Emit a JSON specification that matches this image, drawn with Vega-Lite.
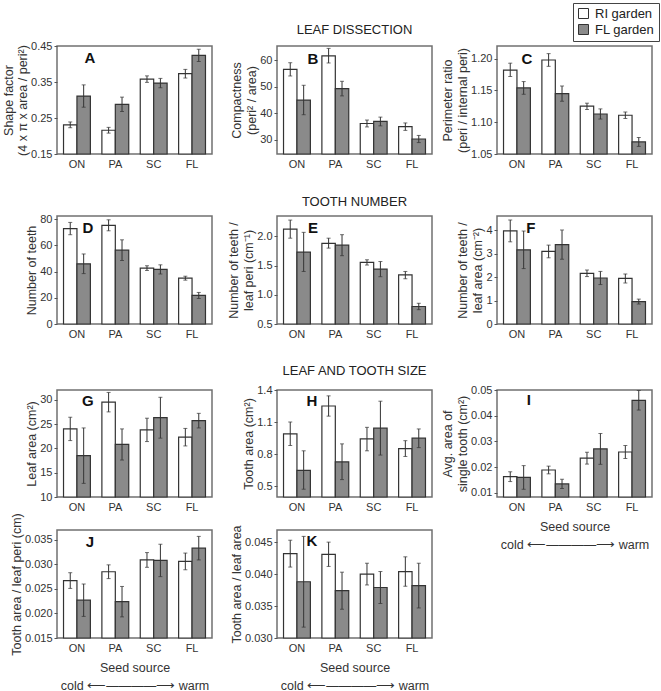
{
"$schema":"https://vega.github.io/schema/vega-lite/v6.json",
"padding":{"left":1,"top":2,"right":0,"bottom":0},
"background":"#ffffff",
"config":{
 "font":"Liberation Sans",
 "view":{"stroke":"#707070","strokeWidth":1.5},
 "axis":{"domain":false,"grid":false,"labelOverlap":false,"labelFont":"Liberation Sans","labelFontSize":11,"labelColor":"#333333","titleFont":"Liberation Sans","titleFontSize":12.5,"titleFontWeight":"normal","titleColor":"#333333","tickColor":"#555555","tickSize":3},
 "axisX":{"ticks":false,"labelPadding":4,"labelAngle":0,"titlePadding":8,"titleLineHeight":18},
 "axisY":{"labelPadding":2,"titlePadding":1,"titleLineHeight":15},
 "title":{"font":"Liberation Sans","fontSize":13,"fontWeight":"normal","color":"#222222"}
},
"spacing":25,
"vconcat":[
  {"bounds":"flush","spacing":65,"hconcat":[
   {"width":155,"height":108,"resolve":{"axis":{"x":"independent","y":"independent"}},
    "data":{"values":[
     {"source":"ON","garden":"RI garden","mean":0.231,"lo":0.223,"hi":0.239},
     {"source":"ON","garden":"FL garden","mean":0.311,"lo":0.280,"hi":0.342},
     {"source":"PA","garden":"RI garden","mean":0.216,"lo":0.208,"hi":0.224},
     {"source":"PA","garden":"FL garden","mean":0.288,"lo":0.268,"hi":0.308},
     {"source":"SC","garden":"RI garden","mean":0.358,"lo":0.349,"hi":0.367},
     {"source":"SC","garden":"FL garden","mean":0.347,"lo":0.334,"hi":0.360},
     {"source":"FL","garden":"RI garden","mean":0.373,"lo":0.361,"hi":0.385},
     {"source":"FL","garden":"FL garden","mean":0.424,"lo":0.407,"hi":0.441}]},
    "layer":[
     {"mark":{"type":"bar","stroke":"#333333","strokeWidth":1.2},
      "encoding":{
       "x":{"field":"source","type":"nominal","scale":{"domain":["ON","PA","SC","FL"],"paddingInner":0.3,"paddingOuter":0.17},"axis":{"title":null,"labelOverlap":false}},
       "xOffset":{"field":"garden","type":"nominal","scale":{"domain":["RI garden","FL garden"]}},
       "y":{"field":"mean","type":"quantitative","scale":{"domain":[0.15,0.45],"nice":false,"zero":false},"axis":{"title":["Shape factor","(4 x π x area / peri²)"],"titleLineHeight":14,"values":[0.15,0.25,0.35,0.45],"format":".2f","labelOverlap":false}},
       "y2":{"datum":0.15},
       "color":{"field":"garden","type":"nominal","scale":{"domain":["RI garden","FL garden"],"range":["#ffffff","#8a8a8a"]},"legend":{"title":null,"orient":"none","legendX":516,"legendY":-43,"symbolType":"square","symbolSize":100,"symbolStrokeColor":"#333333","symbolStrokeWidth":1,"symbolOpacity":1,"labelFontSize":13,"labelColor":"#222222","strokeColor":"#444444","padding":4,"rowPadding":1,"labelOffset":5}}}},
     {"mark":{"type":"rule","color":"#333333"},
      "encoding":{"x":{"field":"source","type":"nominal","axis":null},"xOffset":{"field":"garden","type":"nominal"},"y":{"field":"lo","type":"quantitative","axis":null},"y2":{"field":"hi"}}},
     {"mark":{"type":"tick","orient":"horizontal","size":4,"thickness":1,"color":"#333333"},
      "encoding":{"x":{"field":"source","type":"nominal","axis":null},"xOffset":{"field":"garden","type":"nominal"},"y":{"field":"lo","type":"quantitative","axis":null}}},
     {"mark":{"type":"tick","orient":"horizontal","size":4,"thickness":1,"color":"#333333"},
      "encoding":{"x":{"field":"source","type":"nominal","axis":null},"xOffset":{"field":"garden","type":"nominal"},"y":{"field":"hi","type":"quantitative","axis":null}}},
     {"data":{"values":[{}]},"mark":{"type":"text","text":"A","fontSize":15,"fontWeight":"bold","dx":13,"baseline":"middle","color":"#111111"},
      "encoding":{"x":{"datum":"ON","axis":null},"y":{"datum":0.4175,"axis":null}}}
    ]},
   {"width":155,"height":108,"resolve":{"axis":{"x":"independent","y":"independent"}},
    "title":{"text":"LEAF DISSECTION","offset":9},
    "data":{"values":[
     {"source":"ON","garden":"RI garden","mean":56.5,"lo":54.0,"hi":59.0},
     {"source":"ON","garden":"FL garden","mean":44.9,"lo":39.4,"hi":50.5},
     {"source":"PA","garden":"RI garden","mean":61.6,"lo":58.9,"hi":64.4},
     {"source":"PA","garden":"FL garden","mean":49.25,"lo":46.5,"hi":52.0},
     {"source":"SC","garden":"RI garden","mean":36.1,"lo":34.8,"hi":37.4},
     {"source":"SC","garden":"FL garden","mean":36.9,"lo":35.2,"hi":38.5},
     {"source":"FL","garden":"RI garden","mean":34.9,"lo":33.5,"hi":36.3},
     {"source":"FL","garden":"FL garden","mean":30.25,"lo":28.9,"hi":31.6}]},
    "layer":[
     {"mark":{"type":"bar","stroke":"#333333","strokeWidth":1.2},
      "encoding":{
       "x":{"field":"source","type":"nominal","scale":{"domain":["ON","PA","SC","FL"],"paddingInner":0.3,"paddingOuter":0.17},"axis":{"title":null,"labelOverlap":false}},
       "xOffset":{"field":"garden","type":"nominal","scale":{"domain":["RI garden","FL garden"]}},
       "y":{"field":"mean","type":"quantitative","scale":{"domain":[24.6,65.3],"nice":false,"zero":false},"axis":{"title":["Compactness","(peri² / area)"],"values":[30,40,50,60],"labelOverlap":false}},
       "y2":{"datum":24.6},
       "color":{"field":"garden","type":"nominal","scale":{"domain":["RI garden","FL garden"],"range":["#ffffff","#8a8a8a"]},"legend":{"title":null,"orient":"none","legendX":516,"legendY":-43,"symbolType":"square","symbolSize":100,"symbolStrokeColor":"#333333","symbolStrokeWidth":1,"symbolOpacity":1,"labelFontSize":13,"labelColor":"#222222","strokeColor":"#444444","padding":4,"rowPadding":1,"labelOffset":5}}}},
     {"mark":{"type":"rule","color":"#333333"},
      "encoding":{"x":{"field":"source","type":"nominal","axis":null},"xOffset":{"field":"garden","type":"nominal"},"y":{"field":"lo","type":"quantitative","axis":null},"y2":{"field":"hi"}}},
     {"mark":{"type":"tick","orient":"horizontal","size":4,"thickness":1,"color":"#333333"},
      "encoding":{"x":{"field":"source","type":"nominal","axis":null},"xOffset":{"field":"garden","type":"nominal"},"y":{"field":"lo","type":"quantitative","axis":null}}},
     {"mark":{"type":"tick","orient":"horizontal","size":4,"thickness":1,"color":"#333333"},
      "encoding":{"x":{"field":"source","type":"nominal","axis":null},"xOffset":{"field":"garden","type":"nominal"},"y":{"field":"hi","type":"quantitative","axis":null}}},
     {"data":{"values":[{}]},"mark":{"type":"text","text":"B","fontSize":15,"fontWeight":"bold","dx":16,"baseline":"middle","color":"#111111"},
      "encoding":{"x":{"datum":"ON","axis":null},"y":{"datum":60.5,"axis":null}}}
    ]},
   {"width":155,"height":108,"resolve":{"axis":{"x":"independent","y":"independent"}},
    "data":{"values":[
     {"source":"ON","garden":"RI garden","mean":1.182,"lo":1.172,"hi":1.193},
     {"source":"ON","garden":"FL garden","mean":1.154,"lo":1.144,"hi":1.164},
     {"source":"PA","garden":"RI garden","mean":1.198,"lo":1.188,"hi":1.208},
     {"source":"PA","garden":"FL garden","mean":1.145,"lo":1.133,"hi":1.157},
     {"source":"SC","garden":"RI garden","mean":1.1255,"lo":1.120,"hi":1.130},
     {"source":"SC","garden":"FL garden","mean":1.113,"lo":1.105,"hi":1.121},
     {"source":"FL","garden":"RI garden","mean":1.111,"lo":1.106,"hi":1.116},
     {"source":"FL","garden":"FL garden","mean":1.069,"lo":1.062,"hi":1.076}]},
    "layer":[
     {"mark":{"type":"bar","stroke":"#333333","strokeWidth":1.2},
      "encoding":{
       "x":{"field":"source","type":"nominal","scale":{"domain":["ON","PA","SC","FL"],"paddingInner":0.3,"paddingOuter":0.17},"axis":{"title":null,"labelOverlap":false}},
       "xOffset":{"field":"garden","type":"nominal","scale":{"domain":["RI garden","FL garden"]}},
       "y":{"field":"mean","type":"quantitative","scale":{"domain":[1.05,1.22],"nice":false,"zero":false},"axis":{"title":["Perimeter ratio","(peri / internal peri)"],"values":[1.05,1.1,1.15,1.2],"format":".2f","labelOverlap":false}},
       "y2":{"datum":1.05},
       "color":{"field":"garden","type":"nominal","scale":{"domain":["RI garden","FL garden"],"range":["#ffffff","#8a8a8a"]},"legend":{"title":null,"orient":"none","legendX":516,"legendY":-43,"symbolType":"square","symbolSize":100,"symbolStrokeColor":"#333333","symbolStrokeWidth":1,"symbolOpacity":1,"labelFontSize":13,"labelColor":"#222222","strokeColor":"#444444","padding":4,"rowPadding":1,"labelOffset":5}}}},
     {"mark":{"type":"rule","color":"#333333"},
      "encoding":{"x":{"field":"source","type":"nominal","axis":null},"xOffset":{"field":"garden","type":"nominal"},"y":{"field":"lo","type":"quantitative","axis":null},"y2":{"field":"hi"}}},
     {"mark":{"type":"tick","orient":"horizontal","size":4,"thickness":1,"color":"#333333"},
      "encoding":{"x":{"field":"source","type":"nominal","axis":null},"xOffset":{"field":"garden","type":"nominal"},"y":{"field":"lo","type":"quantitative","axis":null}}},
     {"mark":{"type":"tick","orient":"horizontal","size":4,"thickness":1,"color":"#333333"},
      "encoding":{"x":{"field":"source","type":"nominal","axis":null},"xOffset":{"field":"garden","type":"nominal"},"y":{"field":"hi","type":"quantitative","axis":null}}},
     {"data":{"values":[{}]},"mark":{"type":"text","text":"C","fontSize":15,"fontWeight":"bold","dx":10,"baseline":"middle","color":"#111111"},
      "encoding":{"x":{"datum":"ON","axis":null},"y":{"datum":1.199,"axis":null}}}
    ]}
  ]},
 {"spacing":24,"vconcat":[
  {"bounds":"flush","spacing":65,"hconcat":[
   {"width":155,"height":108,"resolve":{"axis":{"x":"independent","y":"independent"}},
    "data":{"values":[
     {"source":"ON","garden":"RI garden","mean":72.9,"lo":68.2,"hi":77.6},
     {"source":"ON","garden":"FL garden","mean":46.0,"lo":38.5,"hi":53.5},
     {"source":"PA","garden":"RI garden","mean":75.4,"lo":71.2,"hi":79.6},
     {"source":"PA","garden":"FL garden","mean":56.4,"lo":48.5,"hi":64.3},
     {"source":"SC","garden":"RI garden","mean":42.7,"lo":40.9,"hi":44.5},
     {"source":"SC","garden":"FL garden","mean":41.7,"lo":38.2,"hi":45.2},
     {"source":"FL","garden":"RI garden","mean":35.0,"lo":33.5,"hi":36.5},
     {"source":"FL","garden":"FL garden","mean":21.8,"lo":19.5,"hi":24.1}]},
    "layer":[
     {"mark":{"type":"bar","stroke":"#333333","strokeWidth":1.2},
      "encoding":{
       "x":{"field":"source","type":"nominal","scale":{"domain":["ON","PA","SC","FL"],"paddingInner":0.3,"paddingOuter":0.17},"axis":{"title":null,"labelOverlap":false}},
       "xOffset":{"field":"garden","type":"nominal","scale":{"domain":["RI garden","FL garden"]}},
       "y":{"field":"mean","type":"quantitative","scale":{"domain":[0,82.5],"nice":false,"zero":false},"axis":{"title":"Number of teeth","values":[0,20,40,60,80],"labelOverlap":false}},
       "y2":{"datum":0},
       "color":{"field":"garden","type":"nominal","scale":{"domain":["RI garden","FL garden"],"range":["#ffffff","#8a8a8a"]},"legend":{"title":null,"orient":"none","legendX":516,"legendY":-43,"symbolType":"square","symbolSize":100,"symbolStrokeColor":"#333333","symbolStrokeWidth":1,"symbolOpacity":1,"labelFontSize":13,"labelColor":"#222222","strokeColor":"#444444","padding":4,"rowPadding":1,"labelOffset":5}}}},
     {"mark":{"type":"rule","color":"#333333"},
      "encoding":{"x":{"field":"source","type":"nominal","axis":null},"xOffset":{"field":"garden","type":"nominal"},"y":{"field":"lo","type":"quantitative","axis":null},"y2":{"field":"hi"}}},
     {"mark":{"type":"tick","orient":"horizontal","size":4,"thickness":1,"color":"#333333"},
      "encoding":{"x":{"field":"source","type":"nominal","axis":null},"xOffset":{"field":"garden","type":"nominal"},"y":{"field":"lo","type":"quantitative","axis":null}}},
     {"mark":{"type":"tick","orient":"horizontal","size":4,"thickness":1,"color":"#333333"},
      "encoding":{"x":{"field":"source","type":"nominal","axis":null},"xOffset":{"field":"garden","type":"nominal"},"y":{"field":"hi","type":"quantitative","axis":null}}},
     {"data":{"values":[{}]},"mark":{"type":"text","text":"D","fontSize":15,"fontWeight":"bold","dx":11,"baseline":"middle","color":"#111111"},
      "encoding":{"x":{"datum":"ON","axis":null},"y":{"datum":73.6,"axis":null}}}
    ]},
   {"width":155,"height":108,"resolve":{"axis":{"x":"independent","y":"independent"}},
    "title":{"text":"TOOTH NUMBER","offset":7},
    "data":{"values":[
     {"source":"ON","garden":"RI garden","mean":2.125,"lo":1.97,"hi":2.28},
     {"source":"ON","garden":"FL garden","mean":1.73,"lo":1.40,"hi":2.07},
     {"source":"PA","garden":"RI garden","mean":1.88,"lo":1.80,"hi":1.97},
     {"source":"PA","garden":"FL garden","mean":1.85,"lo":1.67,"hi":2.03},
     {"source":"SC","garden":"RI garden","mean":1.555,"lo":1.51,"hi":1.60},
     {"source":"SC","garden":"FL garden","mean":1.44,"lo":1.31,"hi":1.57},
     {"source":"FL","garden":"RI garden","mean":1.34,"lo":1.275,"hi":1.40},
     {"source":"FL","garden":"FL garden","mean":0.80,"lo":0.745,"hi":0.855}]},
    "layer":[
     {"mark":{"type":"bar","stroke":"#333333","strokeWidth":1.2},
      "encoding":{
       "x":{"field":"source","type":"nominal","scale":{"domain":["ON","PA","SC","FL"],"paddingInner":0.3,"paddingOuter":0.17},"axis":{"title":null,"labelOverlap":false}},
       "xOffset":{"field":"garden","type":"nominal","scale":{"domain":["RI garden","FL garden"]}},
       "y":{"field":"mean","type":"quantitative","scale":{"domain":[0.5,2.35],"nice":false,"zero":false},"axis":{"title":["Number of teeth /","leaf peri (cm⁻¹)"],"values":[0.5,1.0,1.5,2.0],"format":".1f","labelOverlap":false}},
       "y2":{"datum":0.5},
       "color":{"field":"garden","type":"nominal","scale":{"domain":["RI garden","FL garden"],"range":["#ffffff","#8a8a8a"]},"legend":{"title":null,"orient":"none","legendX":516,"legendY":-43,"symbolType":"square","symbolSize":100,"symbolStrokeColor":"#333333","symbolStrokeWidth":1,"symbolOpacity":1,"labelFontSize":13,"labelColor":"#222222","strokeColor":"#444444","padding":4,"rowPadding":1,"labelOffset":5}}}},
     {"mark":{"type":"rule","color":"#333333"},
      "encoding":{"x":{"field":"source","type":"nominal","axis":null},"xOffset":{"field":"garden","type":"nominal"},"y":{"field":"lo","type":"quantitative","axis":null},"y2":{"field":"hi"}}},
     {"mark":{"type":"tick","orient":"horizontal","size":4,"thickness":1,"color":"#333333"},
      "encoding":{"x":{"field":"source","type":"nominal","axis":null},"xOffset":{"field":"garden","type":"nominal"},"y":{"field":"lo","type":"quantitative","axis":null}}},
     {"mark":{"type":"tick","orient":"horizontal","size":4,"thickness":1,"color":"#333333"},
      "encoding":{"x":{"field":"source","type":"nominal","axis":null},"xOffset":{"field":"garden","type":"nominal"},"y":{"field":"hi","type":"quantitative","axis":null}}},
     {"data":{"values":[{}]},"mark":{"type":"text","text":"E","fontSize":15,"fontWeight":"bold","dx":16,"baseline":"middle","color":"#111111"},
      "encoding":{"x":{"datum":"ON","axis":null},"y":{"datum":2.15,"axis":null}}}
    ]},
   {"width":155,"height":108,"resolve":{"axis":{"x":"independent","y":"independent"}},
    "data":{"values":[
     {"source":"ON","garden":"RI garden","mean":3.97,"lo":3.50,"hi":4.43},
     {"source":"ON","garden":"FL garden","mean":3.16,"lo":2.36,"hi":3.96},
     {"source":"PA","garden":"RI garden","mean":3.09,"lo":2.82,"hi":3.36},
     {"source":"PA","garden":"FL garden","mean":3.38,"lo":2.76,"hi":4.00},
     {"source":"SC","garden":"RI garden","mean":2.16,"lo":2.02,"hi":2.30},
     {"source":"SC","garden":"FL garden","mean":1.96,"lo":1.68,"hi":2.24},
     {"source":"FL","garden":"RI garden","mean":1.94,"lo":1.75,"hi":2.13},
     {"source":"FL","garden":"FL garden","mean":0.95,"lo":0.85,"hi":1.06}]},
    "layer":[
     {"mark":{"type":"bar","stroke":"#333333","strokeWidth":1.2},
      "encoding":{
       "x":{"field":"source","type":"nominal","scale":{"domain":["ON","PA","SC","FL"],"paddingInner":0.3,"paddingOuter":0.17},"axis":{"title":null,"labelOverlap":false}},
       "xOffset":{"field":"garden","type":"nominal","scale":{"domain":["RI garden","FL garden"]}},
       "y":{"field":"mean","type":"quantitative","scale":{"domain":[0,4.6],"nice":false,"zero":false},"axis":{"title":["Number of teeth /","leaf area (cm⁻²)"],"values":[0,1,2,3,4],"labelOverlap":false}},
       "y2":{"datum":0},
       "color":{"field":"garden","type":"nominal","scale":{"domain":["RI garden","FL garden"],"range":["#ffffff","#8a8a8a"]},"legend":{"title":null,"orient":"none","legendX":516,"legendY":-43,"symbolType":"square","symbolSize":100,"symbolStrokeColor":"#333333","symbolStrokeWidth":1,"symbolOpacity":1,"labelFontSize":13,"labelColor":"#222222","strokeColor":"#444444","padding":4,"rowPadding":1,"labelOffset":5}}}},
     {"mark":{"type":"rule","color":"#333333"},
      "encoding":{"x":{"field":"source","type":"nominal","axis":null},"xOffset":{"field":"garden","type":"nominal"},"y":{"field":"lo","type":"quantitative","axis":null},"y2":{"field":"hi"}}},
     {"mark":{"type":"tick","orient":"horizontal","size":4,"thickness":1,"color":"#333333"},
      "encoding":{"x":{"field":"source","type":"nominal","axis":null},"xOffset":{"field":"garden","type":"nominal"},"y":{"field":"lo","type":"quantitative","axis":null}}},
     {"mark":{"type":"tick","orient":"horizontal","size":4,"thickness":1,"color":"#333333"},
      "encoding":{"x":{"field":"source","type":"nominal","axis":null},"xOffset":{"field":"garden","type":"nominal"},"y":{"field":"hi","type":"quantitative","axis":null}}},
     {"data":{"values":[{}]},"mark":{"type":"text","text":"F","fontSize":15,"fontWeight":"bold","dx":14,"baseline":"middle","color":"#111111"},
      "encoding":{"x":{"datum":"ON","axis":null},"y":{"datum":4.09,"axis":null}}}
    ]}
  ]},
  {"columns":3,"bounds":"flush","spacing":{"row":33,"column":65},"concat":[
   {"width":155,"height":107,"resolve":{"axis":{"x":"independent","y":"independent"}},
    "data":{"values":[
     {"source":"ON","garden":"RI garden","mean":24.0,"lo":21.6,"hi":26.4},
     {"source":"ON","garden":"FL garden","mean":18.5,"lo":12.8,"hi":24.2},
     {"source":"PA","garden":"RI garden","mean":29.5,"lo":27.5,"hi":31.5},
     {"source":"PA","garden":"FL garden","mean":20.8,"lo":17.6,"hi":24.0},
     {"source":"SC","garden":"RI garden","mean":23.8,"lo":21.4,"hi":26.2},
     {"source":"SC","garden":"FL garden","mean":26.3,"lo":22.1,"hi":30.5},
     {"source":"FL","garden":"RI garden","mean":22.3,"lo":20.5,"hi":24.1},
     {"source":"FL","garden":"FL garden","mean":25.7,"lo":24.2,"hi":27.2}]},
    "layer":[
     {"mark":{"type":"bar","stroke":"#333333","strokeWidth":1.2},
      "encoding":{
       "x":{"field":"source","type":"nominal","scale":{"domain":["ON","PA","SC","FL"],"paddingInner":0.3,"paddingOuter":0.17},"axis":{"title":null,"labelOverlap":false}},
       "xOffset":{"field":"garden","type":"nominal","scale":{"domain":["RI garden","FL garden"]}},
       "y":{"field":"mean","type":"quantitative","scale":{"domain":[10,32],"nice":false,"zero":false},"axis":{"title":"Leaf area (cm²)","values":[10,15,20,25,30],"labelOverlap":false}},
       "y2":{"datum":10},
       "color":{"field":"garden","type":"nominal","scale":{"domain":["RI garden","FL garden"],"range":["#ffffff","#8a8a8a"]},"legend":{"title":null,"orient":"none","legendX":516,"legendY":-43,"symbolType":"square","symbolSize":100,"symbolStrokeColor":"#333333","symbolStrokeWidth":1,"symbolOpacity":1,"labelFontSize":13,"labelColor":"#222222","strokeColor":"#444444","padding":4,"rowPadding":1,"labelOffset":5}}}},
     {"mark":{"type":"rule","color":"#333333"},
      "encoding":{"x":{"field":"source","type":"nominal","axis":null},"xOffset":{"field":"garden","type":"nominal"},"y":{"field":"lo","type":"quantitative","axis":null},"y2":{"field":"hi"}}},
     {"mark":{"type":"tick","orient":"horizontal","size":4,"thickness":1,"color":"#333333"},
      "encoding":{"x":{"field":"source","type":"nominal","axis":null},"xOffset":{"field":"garden","type":"nominal"},"y":{"field":"lo","type":"quantitative","axis":null}}},
     {"mark":{"type":"tick","orient":"horizontal","size":4,"thickness":1,"color":"#333333"},
      "encoding":{"x":{"field":"source","type":"nominal","axis":null},"xOffset":{"field":"garden","type":"nominal"},"y":{"field":"hi","type":"quantitative","axis":null}}},
     {"data":{"values":[{}]},"mark":{"type":"text","text":"G","fontSize":15,"fontWeight":"bold","dx":11,"baseline":"middle","color":"#111111"},
      "encoding":{"x":{"datum":"ON","axis":null},"y":{"datum":29.68,"axis":null}}}
    ]},
   {"width":155,"height":107,"resolve":{"axis":{"x":"independent","y":"independent"}},
    "title":{"text":"LEAF AND TOOTH SIZE","offset":6},
    "data":{"values":[
     {"source":"ON","garden":"RI garden","mean":0.989,"lo":0.88,"hi":1.10},
     {"source":"ON","garden":"FL garden","mean":0.647,"lo":0.47,"hi":0.83},
     {"source":"PA","garden":"RI garden","mean":1.25,"lo":1.155,"hi":1.345},
     {"source":"PA","garden":"FL garden","mean":0.726,"lo":0.56,"hi":0.895},
     {"source":"SC","garden":"RI garden","mean":0.942,"lo":0.83,"hi":1.05},
     {"source":"SC","garden":"FL garden","mean":1.042,"lo":0.79,"hi":1.295},
     {"source":"FL","garden":"RI garden","mean":0.851,"lo":0.777,"hi":0.925},
     {"source":"FL","garden":"FL garden","mean":0.948,"lo":0.86,"hi":1.035}]},
    "layer":[
     {"mark":{"type":"bar","stroke":"#333333","strokeWidth":1.2},
      "encoding":{
       "x":{"field":"source","type":"nominal","scale":{"domain":["ON","PA","SC","FL"],"paddingInner":0.3,"paddingOuter":0.17},"axis":{"title":null,"labelOverlap":false}},
       "xOffset":{"field":"garden","type":"nominal","scale":{"domain":["RI garden","FL garden"]}},
       "y":{"field":"mean","type":"quantitative","scale":{"domain":[0.397,1.4],"nice":false,"zero":false},"axis":{"title":"Tooth area (cm²)","values":[0.5,0.8,1.1,1.4],"format":".1f","labelOverlap":false}},
       "y2":{"datum":0.397},
       "color":{"field":"garden","type":"nominal","scale":{"domain":["RI garden","FL garden"],"range":["#ffffff","#8a8a8a"]},"legend":{"title":null,"orient":"none","legendX":516,"legendY":-43,"symbolType":"square","symbolSize":100,"symbolStrokeColor":"#333333","symbolStrokeWidth":1,"symbolOpacity":1,"labelFontSize":13,"labelColor":"#222222","strokeColor":"#444444","padding":4,"rowPadding":1,"labelOffset":5}}}},
     {"mark":{"type":"rule","color":"#333333"},
      "encoding":{"x":{"field":"source","type":"nominal","axis":null},"xOffset":{"field":"garden","type":"nominal"},"y":{"field":"lo","type":"quantitative","axis":null},"y2":{"field":"hi"}}},
     {"mark":{"type":"tick","orient":"horizontal","size":4,"thickness":1,"color":"#333333"},
      "encoding":{"x":{"field":"source","type":"nominal","axis":null},"xOffset":{"field":"garden","type":"nominal"},"y":{"field":"lo","type":"quantitative","axis":null}}},
     {"mark":{"type":"tick","orient":"horizontal","size":4,"thickness":1,"color":"#333333"},
      "encoding":{"x":{"field":"source","type":"nominal","axis":null},"xOffset":{"field":"garden","type":"nominal"},"y":{"field":"hi","type":"quantitative","axis":null}}},
     {"data":{"values":[{}]},"mark":{"type":"text","text":"H","fontSize":15,"fontWeight":"bold","dx":15,"baseline":"middle","color":"#111111"},
      "encoding":{"x":{"datum":"ON","axis":null},"y":{"datum":1.294,"axis":null}}}
    ]},
   {"width":155,"height":107,"resolve":{"axis":{"x":"independent","y":"independent"}},
    "data":{"values":[
     {"source":"ON","garden":"RI garden","mean":0.0163,"lo":0.0144,"hi":0.0182},
     {"source":"ON","garden":"FL garden","mean":0.0160,"lo":0.0114,"hi":0.0206},
     {"source":"PA","garden":"RI garden","mean":0.0189,"lo":0.0174,"hi":0.0204},
     {"source":"PA","garden":"FL garden","mean":0.0135,"lo":0.0117,"hi":0.0153},
     {"source":"SC","garden":"RI garden","mean":0.0235,"lo":0.0212,"hi":0.0258},
     {"source":"SC","garden":"FL garden","mean":0.0271,"lo":0.0211,"hi":0.0331},
     {"source":"FL","garden":"RI garden","mean":0.0259,"lo":0.0234,"hi":0.0284},
     {"source":"FL","garden":"FL garden","mean":0.0460,"lo":0.0422,"hi":0.0498}]},
    "layer":[
     {"mark":{"type":"bar","stroke":"#333333","strokeWidth":1.2},
      "encoding":{
       "x":{"field":"source","type":"nominal","scale":{"domain":["ON","PA","SC","FL"],"paddingInner":0.3,"paddingOuter":0.17},"axis":{"title":["Seed source","cold ⟵————⟶ warm"],"labelOverlap":false}},
       "xOffset":{"field":"garden","type":"nominal","scale":{"domain":["RI garden","FL garden"]}},
       "y":{"field":"mean","type":"quantitative","scale":{"domain":[0.0084,0.05],"nice":false,"zero":false},"axis":{"title":["Avg. area of","single tooth (cm²)"],"values":[0.01,0.02,0.03,0.04,0.05],"format":".2f","labelOverlap":false}},
       "y2":{"datum":0.0084},
       "color":{"field":"garden","type":"nominal","scale":{"domain":["RI garden","FL garden"],"range":["#ffffff","#8a8a8a"]},"legend":{"title":null,"orient":"none","legendX":516,"legendY":-43,"symbolType":"square","symbolSize":100,"symbolStrokeColor":"#333333","symbolStrokeWidth":1,"symbolOpacity":1,"labelFontSize":13,"labelColor":"#222222","strokeColor":"#444444","padding":4,"rowPadding":1,"labelOffset":5}}}},
     {"mark":{"type":"rule","color":"#333333"},
      "encoding":{"x":{"field":"source","type":"nominal","axis":null},"xOffset":{"field":"garden","type":"nominal"},"y":{"field":"lo","type":"quantitative","axis":null},"y2":{"field":"hi"}}},
     {"mark":{"type":"tick","orient":"horizontal","size":4,"thickness":1,"color":"#333333"},
      "encoding":{"x":{"field":"source","type":"nominal","axis":null},"xOffset":{"field":"garden","type":"nominal"},"y":{"field":"lo","type":"quantitative","axis":null}}},
     {"mark":{"type":"tick","orient":"horizontal","size":4,"thickness":1,"color":"#333333"},
      "encoding":{"x":{"field":"source","type":"nominal","axis":null},"xOffset":{"field":"garden","type":"nominal"},"y":{"field":"hi","type":"quantitative","axis":null}}},
     {"data":{"values":[{}]},"mark":{"type":"text","text":"I","fontSize":15,"fontWeight":"bold","dx":12,"baseline":"middle","color":"#111111"},
      "encoding":{"x":{"datum":"ON","axis":null},"y":{"datum":0.046,"axis":null}}}
    ]},
   {"width":155,"height":108,"resolve":{"axis":{"x":"independent","y":"independent"}},
    "data":{"values":[
     {"source":"ON","garden":"RI garden","mean":0.0267,"lo":0.0251,"hi":0.0283},
     {"source":"ON","garden":"FL garden","mean":0.0227,"lo":0.0194,"hi":0.0260},
     {"source":"PA","garden":"RI garden","mean":0.0285,"lo":0.0271,"hi":0.0299},
     {"source":"PA","garden":"FL garden","mean":0.0224,"lo":0.0193,"hi":0.0255},
     {"source":"SC","garden":"RI garden","mean":0.0309,"lo":0.0294,"hi":0.0324},
     {"source":"SC","garden":"FL garden","mean":0.0308,"lo":0.0275,"hi":0.0341},
     {"source":"FL","garden":"RI garden","mean":0.0306,"lo":0.0289,"hi":0.0323},
     {"source":"FL","garden":"FL garden","mean":0.0333,"lo":0.0309,"hi":0.0357}]},
    "layer":[
     {"mark":{"type":"bar","stroke":"#333333","strokeWidth":1.2},
      "encoding":{
       "x":{"field":"source","type":"nominal","scale":{"domain":["ON","PA","SC","FL"],"paddingInner":0.3,"paddingOuter":0.17},"axis":{"title":["Seed source","cold ⟵————⟶ warm"],"labelOverlap":false}},
       "xOffset":{"field":"garden","type":"nominal","scale":{"domain":["RI garden","FL garden"]}},
       "y":{"field":"mean","type":"quantitative","scale":{"domain":[0.015,0.037],"nice":false,"zero":false},"axis":{"title":"Tooth area / leaf peri (cm)","values":[0.015,0.02,0.025,0.03,0.035],"format":".3f","labelOverlap":false}},
       "y2":{"datum":0.015},
       "color":{"field":"garden","type":"nominal","scale":{"domain":["RI garden","FL garden"],"range":["#ffffff","#8a8a8a"]},"legend":{"title":null,"orient":"none","legendX":516,"legendY":-43,"symbolType":"square","symbolSize":100,"symbolStrokeColor":"#333333","symbolStrokeWidth":1,"symbolOpacity":1,"labelFontSize":13,"labelColor":"#222222","strokeColor":"#444444","padding":4,"rowPadding":1,"labelOffset":5}}}},
     {"mark":{"type":"rule","color":"#333333"},
      "encoding":{"x":{"field":"source","type":"nominal","axis":null},"xOffset":{"field":"garden","type":"nominal"},"y":{"field":"lo","type":"quantitative","axis":null},"y2":{"field":"hi"}}},
     {"mark":{"type":"tick","orient":"horizontal","size":4,"thickness":1,"color":"#333333"},
      "encoding":{"x":{"field":"source","type":"nominal","axis":null},"xOffset":{"field":"garden","type":"nominal"},"y":{"field":"lo","type":"quantitative","axis":null}}},
     {"mark":{"type":"tick","orient":"horizontal","size":4,"thickness":1,"color":"#333333"},
      "encoding":{"x":{"field":"source","type":"nominal","axis":null},"xOffset":{"field":"garden","type":"nominal"},"y":{"field":"hi","type":"quantitative","axis":null}}},
     {"data":{"values":[{}]},"mark":{"type":"text","text":"J","fontSize":15,"fontWeight":"bold","dx":13,"baseline":"middle","color":"#111111"},
      "encoding":{"x":{"datum":"ON","axis":null},"y":{"datum":0.03456,"axis":null}}}
    ]},
   {"width":155,"height":108,"resolve":{"axis":{"x":"independent","y":"independent"}},
    "data":{"values":[
     {"source":"ON","garden":"RI garden","mean":0.0432,"lo":0.0411,"hi":0.0453},
     {"source":"ON","garden":"FL garden","mean":0.0388,"lo":0.0317,"hi":0.0459},
     {"source":"PA","garden":"RI garden","mean":0.0431,"lo":0.0412,"hi":0.0450},
     {"source":"PA","garden":"FL garden","mean":0.0374,"lo":0.0345,"hi":0.0403},
     {"source":"SC","garden":"RI garden","mean":0.0400,"lo":0.0383,"hi":0.0417},
     {"source":"SC","garden":"FL garden","mean":0.0379,"lo":0.0354,"hi":0.0404},
     {"source":"FL","garden":"RI garden","mean":0.0404,"lo":0.0381,"hi":0.0427},
     {"source":"FL","garden":"FL garden","mean":0.0382,"lo":0.0347,"hi":0.0417}]},
    "layer":[
     {"mark":{"type":"bar","stroke":"#333333","strokeWidth":1.2},
      "encoding":{
       "x":{"field":"source","type":"nominal","scale":{"domain":["ON","PA","SC","FL"],"paddingInner":0.3,"paddingOuter":0.17},"axis":{"title":["Seed source","cold ⟵————⟶ warm"],"labelOverlap":false}},
       "xOffset":{"field":"garden","type":"nominal","scale":{"domain":["RI garden","FL garden"]}},
       "y":{"field":"mean","type":"quantitative","scale":{"domain":[0.03,0.0469],"nice":false,"zero":false},"axis":{"title":"Tooth area / leaf area","values":[0.03,0.035,0.04,0.045],"format":".3f","labelOverlap":false}},
       "y2":{"datum":0.03},
       "color":{"field":"garden","type":"nominal","scale":{"domain":["RI garden","FL garden"],"range":["#ffffff","#8a8a8a"]},"legend":{"title":null,"orient":"none","legendX":516,"legendY":-43,"symbolType":"square","symbolSize":100,"symbolStrokeColor":"#333333","symbolStrokeWidth":1,"symbolOpacity":1,"labelFontSize":13,"labelColor":"#222222","strokeColor":"#444444","padding":4,"rowPadding":1,"labelOffset":5}}}},
     {"mark":{"type":"rule","color":"#333333"},
      "encoding":{"x":{"field":"source","type":"nominal","axis":null},"xOffset":{"field":"garden","type":"nominal"},"y":{"field":"lo","type":"quantitative","axis":null},"y2":{"field":"hi"}}},
     {"mark":{"type":"tick","orient":"horizontal","size":4,"thickness":1,"color":"#333333"},
      "encoding":{"x":{"field":"source","type":"nominal","axis":null},"xOffset":{"field":"garden","type":"nominal"},"y":{"field":"lo","type":"quantitative","axis":null}}},
     {"mark":{"type":"tick","orient":"horizontal","size":4,"thickness":1,"color":"#333333"},
      "encoding":{"x":{"field":"source","type":"nominal","axis":null},"xOffset":{"field":"garden","type":"nominal"},"y":{"field":"hi","type":"quantitative","axis":null}}},
     {"data":{"values":[{}]},"mark":{"type":"text","text":"K","fontSize":15,"fontWeight":"bold","dx":15,"baseline":"middle","color":"#111111"},
      "encoding":{"x":{"datum":"ON","axis":null},"y":{"datum":0.04513,"axis":null}}}
    ]}
  ]}
 ]}
]
}
